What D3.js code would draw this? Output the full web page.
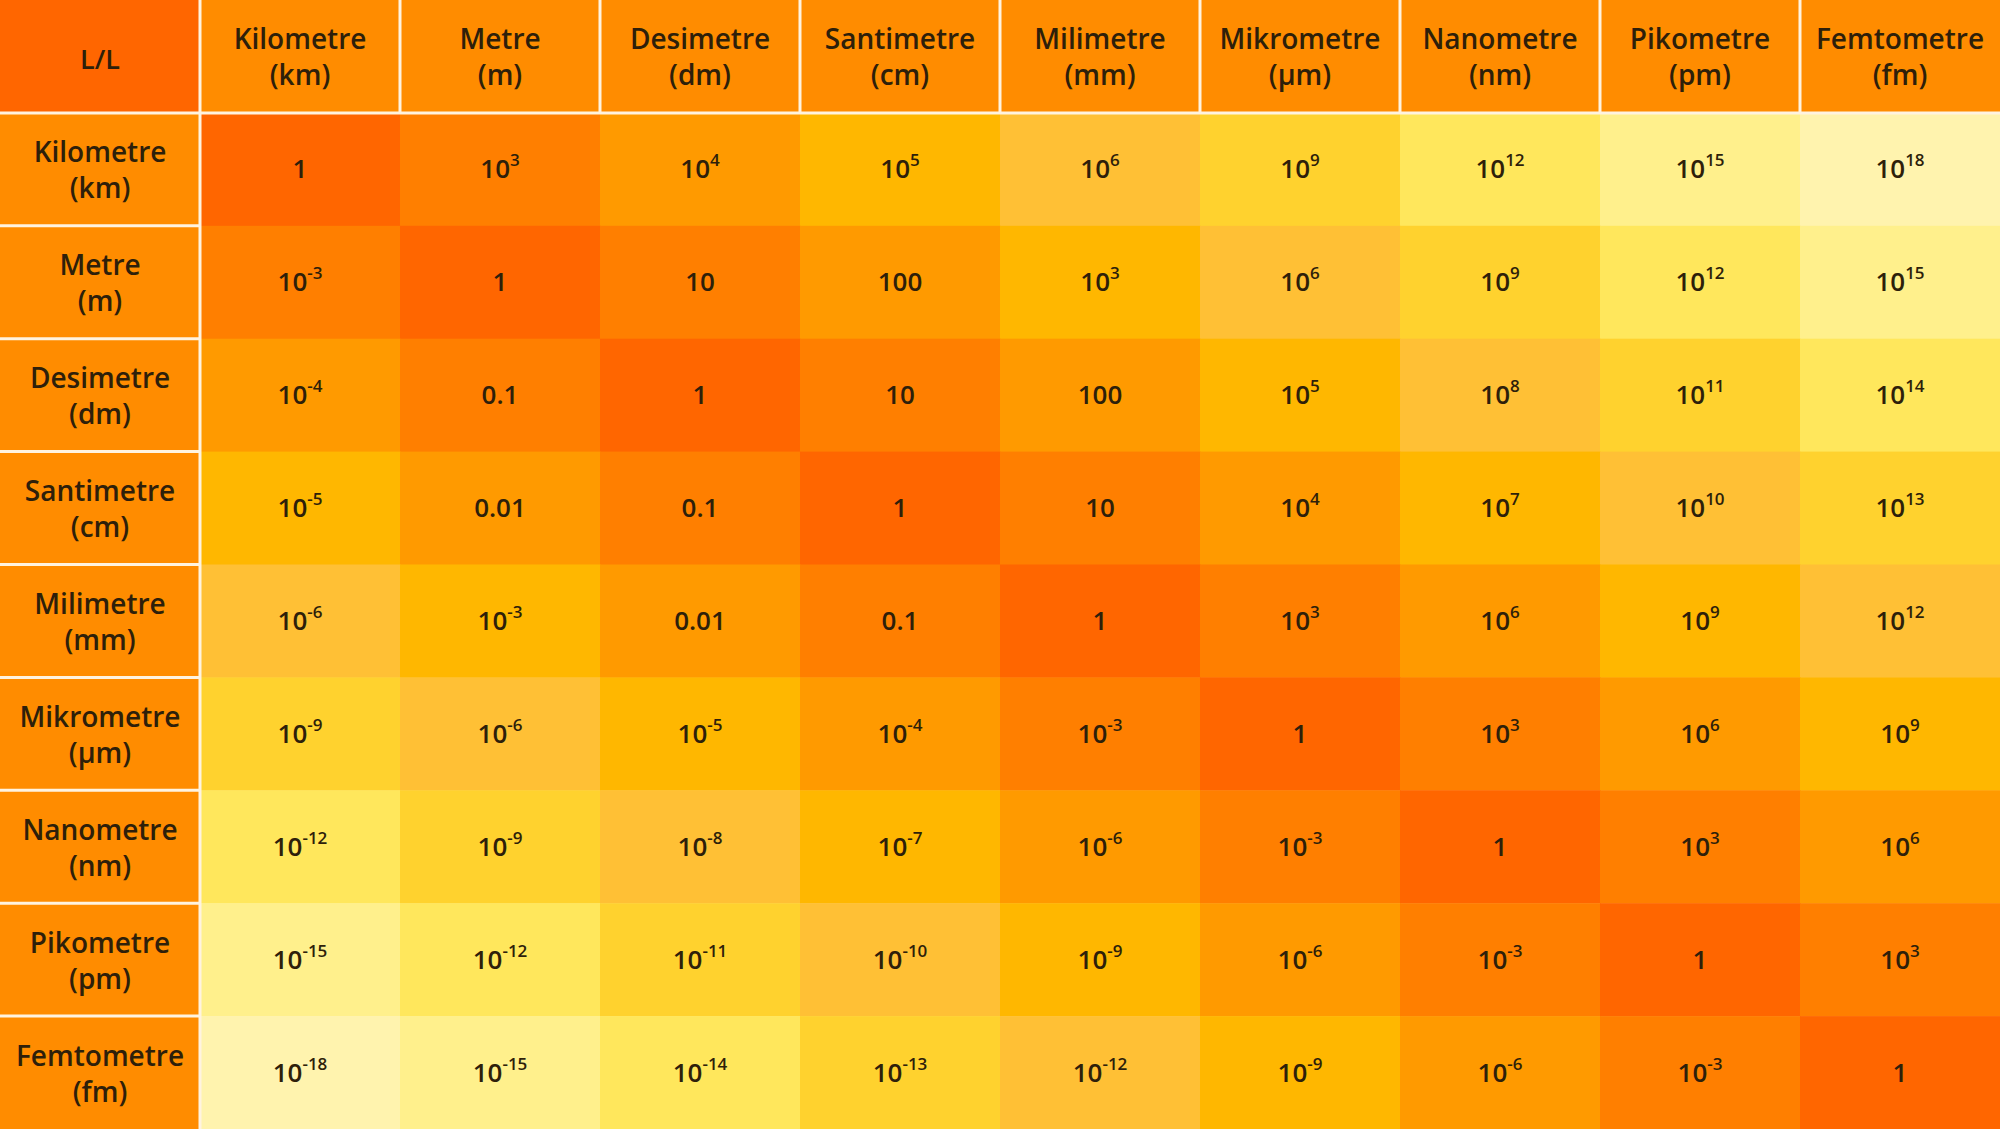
<!DOCTYPE html>
<html>
<head>
<meta charset="utf-8">
<script src="https://cdn.jsdelivr.net/npm/d3@7"></script>
<style>
    body { margin: 0; background: #fff; }
    text { font-family: "Open Sans", Lato, sans-serif; font-weight: 600; fill: #2e1f0a; }
</style>
</head>
<body>
<div id="table"></div>
<script>
// unit names and symbols (header row and first column use the same list)
const unitNames = ["Kilometre", "Metre", "Desimetre", "Santimetre", "Milimetre",
    "Mikrometre", "Nanometre", "Pikometre", "Femtometre"];
const unitSymbols = ["km", "m", "dm", "cm", "mm", "µm", "nm", "pm", "fm"];
const cornerLabel = "L/L";

// one row per unit, one entry per column unit ("^" marks the exponent)
const conversions = [
    ["1", "10^3", "10^4", "10^5", "10^6", "10^9", "10^12", "10^15", "10^18"],
    ["10^-3", "1", "10", "100", "10^3", "10^6", "10^9", "10^12", "10^15"],
    ["10^-4", "0.1", "1", "10", "100", "10^5", "10^8", "10^11", "10^14"],
    ["10^-5", "0.01", "0.1", "1", "10", "10^4", "10^7", "10^10", "10^13"],
    ["10^-6", "10^-3", "0.01", "0.1", "1", "10^3", "10^6", "10^9", "10^12"],
    ["10^-9", "10^-6", "10^-5", "10^-4", "10^-3", "1", "10^3", "10^6", "10^9"],
    ["10^-12", "10^-9", "10^-8", "10^-7", "10^-6", "10^-3", "1", "10^3", "10^6"],
    ["10^-15", "10^-12", "10^-11", "10^-10", "10^-9", "10^-6", "10^-3", "1", "10^3"],
    ["10^-18", "10^-15", "10^-14", "10^-13", "10^-12", "10^-9", "10^-6", "10^-3", "1"]
];

document.addEventListener("DOMContentLoaded", function () {
    const width = 2000;
    const height = 1129;

    const svg = d3.select("#table")
        .append("svg")
        .attr("width", width)
        .attr("height", height)
        .style("display", "block");

    const idx = d3.range(unitNames.length + 1);
    const x = d3.scaleBand().domain(idx).range([0, width]);
    const y = d3.scaleBand().domain(idx).range([0, height]);

    // colour by how far a cell sits from the diagonal
    const color = d3.scaleOrdinal()
        .domain(d3.range(9))
        .range(["#ff6600", "#ff7f00", "#ff9a00", "#ffb700", "#ffc035",
            "#ffd22e", "#ffe75c", "#fff08c", "#fff3ae"]);

    // flatten to cells
    const cells = [];
    conversions.forEach((row, r) => {
        row.forEach((label, c) => cells.push({ r: r + 1, c: c + 1, label: label }));
    });

    svg.selectAll(".cell")
        .data(cells)
        .enter()
        .append("rect")
        .attr("class", "cell")
        .attr("x", d => x(d.c))
        .attr("y", d => y(d.r))
        .attr("width", x.bandwidth() + 0.5)
        .attr("height", y.bandwidth() + 0.5)
        .attr("fill", d => color(Math.abs(d.r - d.c)));

    // header row, first column and corner
    const heads = unitNames.map((n, i) => ({ name: n, sym: unitSymbols[i], i: i + 1 }));

    svg.append("rect")
        .attr("x", x(0)).attr("y", y(0))
        .attr("width", x.bandwidth()).attr("height", y.bandwidth())
        .attr("fill", "#ff6600");

    svg.selectAll(".colhead")
        .data(heads)
        .enter()
        .append("rect")
        .attr("class", "colhead")
        .attr("x", d => x(d.i)).attr("y", y(0))
        .attr("width", x.bandwidth()).attr("height", y.bandwidth())
        .attr("fill", "#ff8c00");

    svg.selectAll(".rowhead")
        .data(heads)
        .enter()
        .append("rect")
        .attr("class", "rowhead")
        .attr("x", x(0)).attr("y", d => y(d.i))
        .attr("width", x.bandwidth()).attr("height", y.bandwidth())
        .attr("fill", "#ff8c00");

    // separator lines
    const lineColor = "#fff3e0";
    const sep = svg.append("g").attr("stroke", lineColor).attr("stroke-width", 3);
    idx.slice(1).forEach(i => {
        sep.append("line")
            .attr("x1", x(i)).attr("x2", x(i))
            .attr("y1", 0).attr("y2", i === 1 ? height : y(1));
        sep.append("line")
            .attr("y1", y(i)).attr("y2", y(i))
            .attr("x1", 0).attr("x2", i === 1 ? width : x(1));
    });

    // corner text
    svg.append("text")
        .attr("x", x(0) + x.bandwidth() / 2)
        .attr("y", y(0) + y.bandwidth() / 2 + 2)
        .attr("text-anchor", "middle")
        .attr("dominant-baseline", "central")
        .style("font-size", "27px")
        .text(cornerLabel);

    // two text lines per heading: name above, symbol below
    function addHeadLabels(cls, cx, cy) {
        const g = svg.append("g").attr("class", cls);
        g.selectAll(".name")
            .data(heads)
            .enter()
            .append("text")
            .attr("class", "name")
            .attr("x", cx).attr("y", d => cy(d) - 18)
            .attr("text-anchor", "middle")
            .attr("dominant-baseline", "central")
            .style("font-size", "28px")
            .text(d => d.name);
        g.selectAll(".sym")
            .data(heads)
            .enter()
            .append("text")
            .attr("class", "sym")
            .attr("x", cx).attr("y", d => cy(d) + 18)
            .attr("text-anchor", "middle")
            .attr("dominant-baseline", "central")
            .style("font-size", "28px")
            .text(d => "(" + d.sym + ")");
    }

    addHeadLabels("colhead-label", d => x(d.i) + x.bandwidth() / 2, d => y(0) + y.bandwidth() / 2);
    addHeadLabels("rowhead-label", d => x(0) + x.bandwidth() / 2, d => y(d.i) + y.bandwidth() / 2);

    // cell values, with superscript exponents
    svg.selectAll(".val")
        .data(cells)
        .enter()
        .append("text")
        .attr("class", "val")
        .attr("x", d => x(d.c) + x.bandwidth() / 2)
        .attr("y", d => y(d.r) + y.bandwidth() / 2 + 9)
        .attr("text-anchor", "middle")
        .style("font-size", "26px")
        .each(function (d) {
            const parts = d.label.split("^");
            const t = d3.select(this);
            t.append("tspan").text(parts[0]);
            if (parts.length > 1) {
                t.append("tspan")
                    .attr("dy", -12)
                    .style("font-size", "17px")
                    .text(parts[1]);
            }
        });
});
</script>
</body>
</html>
